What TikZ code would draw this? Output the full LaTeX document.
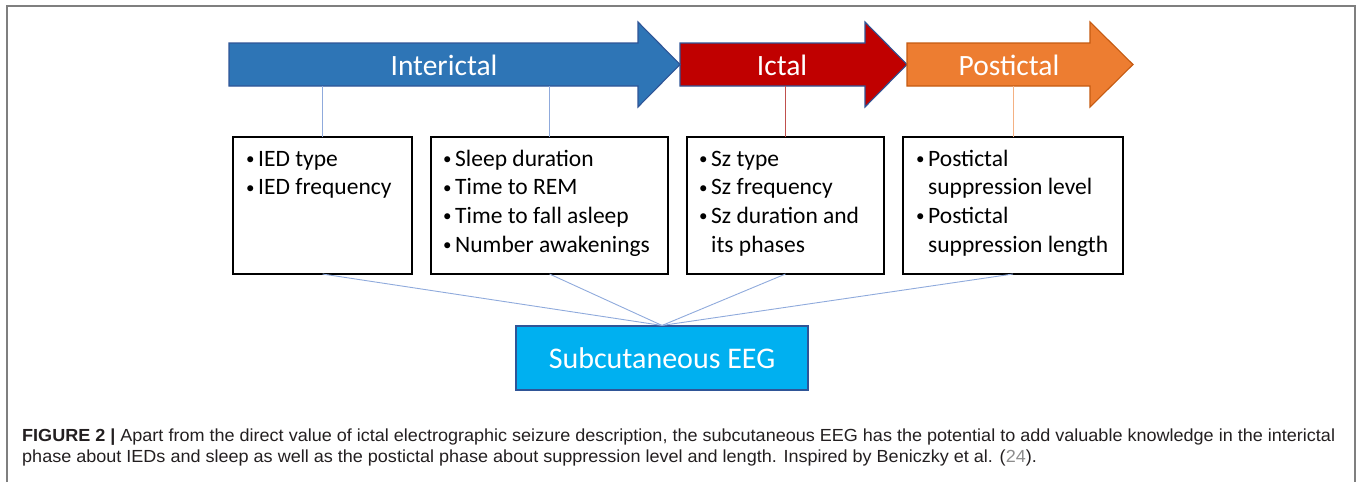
\documentclass[tikz,border=0pt]{standalone}
\usepackage{fontspec}
\setmainfont{Carlito}
\newfontfamily\capfont{Liberation Sans}
\definecolor{interblue}{HTML}{2E75B6}
\definecolor{interedge}{HTML}{2F5597}
\definecolor{ictred}{HTML}{C00000}
\definecolor{postorange}{HTML}{ED7D31}
\definecolor{postedge}{HTML}{C55A11}
\definecolor{eegblue}{HTML}{00B0F0}
\definecolor{linkblue}{HTML}{8FAADC}
\definecolor{linkred}{HTML}{C0504D}
\definecolor{linkorange}{HTML}{F4B183}
\definecolor{framegray}{HTML}{7F7F7F}
\definecolor{captext}{HTML}{231F20}
\definecolor{citegray}{HTML}{8C8C8C}
\newsavebox\capboxA
\newsavebox\capboxB
\tikzset{
  phasearrow/.style={line width=1.1pt, line join=miter},
  phaselabel/.style={anchor=base, inner sep=0, text=white, font=\fontsize{29.5}{34}\selectfont},
  infobox/.style={draw=black, line width=1.5pt, inner sep=0, outer sep=0},
  itemline/.style={anchor=base west, inner sep=0, font=\fontsize{23.5}{28}\selectfont},
  bulletmark/.style={anchor=base west, inner sep=0, yshift=1.5pt, font=\fontsize{17}{20}\selectfont},
  uplink/.style={line width=0.9pt},
  downlink/.style={draw=linkblue, line width=0.9pt},
  capline/.style={anchor=base west, inner sep=0}
}
\begin{document}
\sbox\capboxA{\capfont\fontsize{17.5}{21}\selectfont\color{captext}\textbf{FIGURE 2 |} Apart from the direct value of ictal electrographic seizure description, the subcutaneous EEG has the potential to add valuable knowledge in the interictal}%
\sbox\capboxB{\capfont\fontsize{17.5}{21}\selectfont\color{captext}phase about IEDs and sleep as well as the postictal phase about suppression level and length. Inspired by Beniczky et al. ({\color{citegray}24}).}%
\pgfmathsetmacro\capsc{1313/\the\wd\capboxA}%
\begin{tikzpicture}[x=1pt,y=-1pt]
\useasboundingbox (0,0) rectangle (1357,482);
% frame
\draw[framegray, line width=2pt] (7,482) -- (7,6) -- (1355,6) -- (1355,482);

% phase arrows
\draw[phasearrow, fill=ictred, draw=interedge]
  (680,43) -- (865,43) -- (865,22) -- (907,64.5) -- (865,107) -- (865,86) -- (680,86) -- cycle;
\draw[phasearrow, fill=postorange, draw=postedge]
  (907,43) -- (1090,43) -- (1090,22) -- (1133,64.5) -- (1090,107) -- (1090,86) -- (907,86) -- cycle;
\draw[phasearrow, fill=interblue, draw=interedge]
  (229,43) -- (638,43) -- (638,22) -- (680,64.5) -- (638,107) -- (638,86) -- (229,86) -- cycle;
\node[phaselabel] (linter) at (444,75) {Interictal};
\node[phaselabel] (lictal) at (782,75) {Ictal};
\node[phaselabel] (lpost) at (1009,75) {Postictal};
\coordinate (abot) at (0,86);

% boxes
\node[infobox, minimum width=179pt, minimum height=137pt] (b1) at (322.5,205.5) {};
\node[infobox, minimum width=237pt, minimum height=137pt] (b2) at (549.5,205.5) {};
\node[infobox, minimum width=197pt, minimum height=137pt] (b3) at (785.5,205.5) {};
\node[infobox, minimum width=220pt, minimum height=137pt] (b4) at (1013,205.5) {};

% box 1 text
\node[bulletmark] (b1d1) at (246,166) {•};
\node[itemline] (b1t1) at (258,166) {IED type};
\node[bulletmark] (b1d2) at (246,194.7) {•};
\node[itemline] (b1t2) at (258,194.7) {IED frequency};
% box 2 text
\node[bulletmark] (b2d1) at (443,166) {•};
\node[itemline] (b2t1) at (455,166) {Sleep duration};
\node[bulletmark] (b2d2) at (443,194.7) {•};
\node[itemline] (b2t2) at (455,194.7) {Time to REM};
\node[bulletmark] (b2d3) at (443,223.4) {•};
\node[itemline] (b2t3) at (455,223.4) {Time to fall asleep};
\node[bulletmark] (b2d4) at (443,252.1) {•};
\node[itemline] (b2t4) at (455,252.1) {Number awakenings};
% box 3 text
\node[bulletmark] (b3d1) at (699,166) {•};
\node[itemline] (b3t1) at (711,166) {Sz type};
\node[bulletmark] (b3d2) at (699,194.7) {•};
\node[itemline] (b3t2) at (711,194.7) {Sz frequency};
\node[bulletmark] (b3d3) at (699,223.4) {•};
\node[itemline] (b3t3) at (711,223.4) {Sz duration and};
\node[itemline] (b3t4) at (711,252.1) {its phases};
% box 4 text
\node[bulletmark] (b4d1) at (916,166) {•};
\node[itemline] (b4t1) at (928,166) {Postictal};
\node[itemline] (b4t2) at (928,194.7) {suppression level};
\node[bulletmark] (b4d2) at (916,223.4) {•};
\node[itemline] (b4t3) at (928,223.4) {Postictal};
\node[itemline] (b4t4) at (928,252.1) {suppression length};

% EEG box
\node[draw=interedge, fill=eegblue, line width=1.1pt, minimum width=292pt, minimum height=64pt,
      inner sep=0, text=white, font=\fontsize{30}{34}\selectfont] (eeg) at (662,358)
      {Subcutaneous EEG};

% connectors from phases to boxes
\draw[uplink, draw=linkblue] (b1.north) -- (b1.north |- abot);
\draw[uplink, draw=linkblue] (b2.north) -- (b2.north |- abot);
\draw[uplink, draw=linkred] (b3.north) -- (b3.north |- abot);
\draw[uplink, draw=linkorange] (b4.north) -- (b4.north |- abot);

% connectors from boxes to EEG
\draw[downlink] (b1.south) -- (eeg.north);
\draw[downlink] (b2.south) -- (eeg.north);
\draw[downlink] (b3.south) -- (eeg.north);
\draw[downlink] (b4.south) -- (eeg.north);

% caption
\node[capline] (cap1) at (22,441) {\scalebox{\capsc}[1]{\usebox\capboxA}};
\node[capline] (cap2) at (22,462) {\scalebox{\capsc}[1]{\usebox\capboxB}};
\end{tikzpicture}
\end{document}
